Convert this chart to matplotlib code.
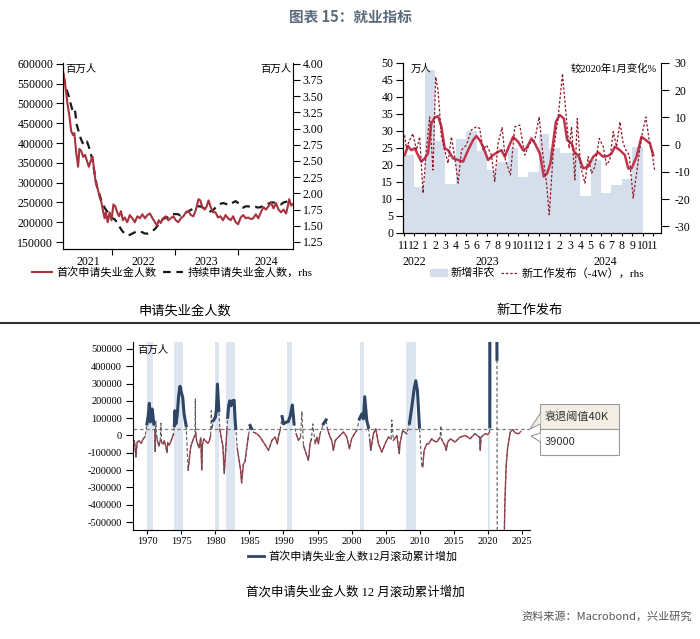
import numpy as np
import matplotlib.pyplot as plt
from matplotlib.lines import Line2D
from matplotlib.patches import Patch, Rectangle, Polygon
from matplotlib.ticker import FormatStrFormatter
import matplotlib.transforms as mtransforms

plt.rcParams['font.family'] = ['Liberation Serif', 'Noto Sans CJK SC', 'DejaVu Sans']
plt.rcParams['axes.unicode_minus'] = False

W, H = 700, 639

# ---------- top left: initial / continuing claims ----------
ic_t = [2021.23, 2021.26, 2021.29, 2021.32, 2021.35, 2021.38, 2021.40, 2021.43, 2021.46, 2021.48,
        2021.51, 2021.54, 2021.57, 2021.60, 2021.63, 2021.66, 2021.69, 2021.71, 2021.74, 2021.77,
        2021.80, 2021.83, 2021.86, 2021.88, 2021.90, 2021.93, 2021.96, 2021.99, 2022.02, 2022.05,
        2022.08, 2022.11, 2022.14, 2022.17, 2022.20, 2022.24, 2022.28, 2022.32, 2022.36, 2022.40,
        2022.44, 2022.48, 2022.52, 2022.56, 2022.60, 2022.64, 2022.68, 2022.71, 2022.74, 2022.77,
        2022.81, 2022.85, 2022.89, 2022.93, 2022.97, 2023.01, 2023.05, 2023.09, 2023.13, 2023.17,
        2023.21, 2023.25, 2023.29, 2023.33, 2023.37, 2023.40, 2023.43, 2023.47, 2023.50, 2023.53,
        2023.56, 2023.60, 2023.64, 2023.68, 2023.72, 2023.76, 2023.80, 2023.84, 2023.88, 2023.92,
        2023.96, 2024.00, 2024.04, 2024.08, 2024.12, 2024.16, 2024.20, 2024.24, 2024.28, 2024.32,
        2024.36, 2024.40, 2024.44, 2024.48, 2024.52, 2024.56, 2024.60, 2024.64, 2024.68, 2024.72,
        2024.76, 2024.79, 2024.81, 2024.84, 2024.86]
ic_v = [575000, 540000, 500000, 470000, 430000, 420000, 425000, 375000, 340000, 385000,
        380000, 365000, 370000, 355000, 340000, 355000, 365000, 335000, 300000, 285000,
        265000, 250000, 225000, 210000, 225000, 200000, 225000, 205000, 245000, 240000,
        225000, 215000, 228000, 205000, 212000, 200000, 218000, 210000, 200000, 215000,
        210000, 220000, 210000, 218000, 222000, 210000, 200000, 192000, 205000, 198000,
        210000, 215000, 205000, 210000, 215000, 205000, 200000, 210000, 215000, 225000,
        228000, 218000, 215000, 232000, 258000, 255000, 238000, 232000, 240000, 255000,
        240000, 225000, 225000, 212000, 215000, 205000, 218000, 210000, 205000, 215000,
        200000, 195000, 212000, 218000, 210000, 212000, 208000, 210000, 220000, 210000,
        225000, 238000, 232000, 240000, 250000, 235000, 248000, 232000, 225000, 232000,
        222000, 242000, 258000, 242000, 245000]

cc_t = [2021.23, 2021.27, 2021.31, 2021.35, 2021.38, 2021.41, 2021.44, 2021.47, 2021.50, 2021.53,
        2021.57, 2021.60, 2021.63, 2021.66, 2021.70, 2021.73, 2021.76, 2021.80, 2021.84, 2021.88,
        2021.92, 2021.96, 2022.00, 2022.04, 2022.08, 2022.12, 2022.16, 2022.20, 2022.24, 2022.28,
        2022.32, 2022.36, 2022.40, 2022.44, 2022.48, 2022.52, 2022.56, 2022.60, 2022.64, 2022.68,
        2022.72, 2022.76, 2022.80, 2022.84, 2022.88, 2022.92, 2022.96, 2023.00, 2023.04, 2023.08,
        2023.12, 2023.16, 2023.20, 2023.24, 2023.28, 2023.32, 2023.36, 2023.40, 2023.44, 2023.48,
        2023.52, 2023.56, 2023.60, 2023.64, 2023.68, 2023.72, 2023.76, 2023.80, 2023.84, 2023.88,
        2023.92, 2023.96, 2024.00, 2024.04, 2024.08, 2024.12, 2024.16, 2024.20, 2024.24, 2024.28,
        2024.32, 2024.36, 2024.40, 2024.44, 2024.48, 2024.52, 2024.56, 2024.60, 2024.64, 2024.68,
        2024.72, 2024.76, 2024.80, 2024.84]
cc_v = [3.80, 3.62, 3.50, 3.35, 3.25, 3.28, 3.05, 2.95, 2.85, 2.78,
        2.75, 2.80, 2.72, 2.62, 2.45, 2.25, 2.10, 1.98, 1.85, 1.78,
        1.72, 1.68, 1.62, 1.60, 1.55, 1.48, 1.42, 1.38, 1.35, 1.36,
        1.38, 1.40, 1.42, 1.41, 1.40, 1.38, 1.38, 1.40, 1.42, 1.45,
        1.50, 1.55, 1.60, 1.62, 1.63, 1.65, 1.68, 1.68, 1.68, 1.66,
        1.68, 1.70, 1.72, 1.74, 1.76, 1.78, 1.80, 1.80, 1.78, 1.76,
        1.74, 1.72, 1.74, 1.78, 1.82, 1.84, 1.85, 1.84, 1.82, 1.83,
        1.86, 1.88, 1.85, 1.80, 1.78, 1.80, 1.80, 1.79, 1.78, 1.79,
        1.78, 1.79, 1.81, 1.82, 1.84, 1.86, 1.86, 1.85, 1.84, 1.83,
        1.86, 1.87, 1.88, 1.90]

# ---------- top right: payrolls / job postings ----------
month_labels = ['11', '12', '1', '2', '3', '4', '5', '6', '7', '8', '9', '10', '11', '12',
                '1', '2', '3', '4', '5', '6', '7', '8', '9', '10', '11']
nfp = [23, 13.5, 48, 27, 14.5, 27.5, 30, 24, 18.5, 21, 25, 16.5, 18, 29,
       25, 23.5, 23.5, 10.8, 21.6, 11.8, 14.2, 15.8, 25.4]

trend_t = [0.07, 0.39, 0.71, 1.04, 1.36, 1.68, 2.0, 2.32, 2.64, 2.96, 3.29, 3.61, 3.93, 4.25,
           4.73, 5.22, 5.70, 6.18, 6.66, 6.98, 7.30, 7.63, 8.11, 8.59, 9.07, 9.40, 9.72, 10.04,
           10.52, 11.0, 11.48, 11.81, 12.29, 12.61, 13.10, 13.48, 13.80, 14.12, 14.64, 15.02,
           15.41, 15.73, 16.15, 16.47, 16.79, 17.27, 17.75, 18.24, 18.72, 19.20, 19.68, 20.01,
           20.33, 20.81, 21.29, 21.61, 21.93, 22.41, 22.89, 23.31, 23.70, 24.02]
trend_v = [-3.8, -0.5, -2, -1.3, -3.8, -6.2, -5, -3.2, 7.8, 10, 10.5, 6.6, -1.3, -2,
           -5, -5.6, -6.2, -2, 1.7, 3.2, 1.7, -0.7, -5.6, -3.8, -2.6, -2, -4.4, -1.3,
           2.9, 1.1, -2, -1.3, 2.3, 0.5, -3.2, -11.7, -10.5, -6.8, 8.4, 10.9,
           9.6, 1.7, 0.5, -3.2, -3.8, -8.7, -8, -4.4, -2.8, -4.4, -4.1, -3.2,
           -0.7, -2, -3.8, -8.7, -8.7, -4.4, 2.9, 1.7, 0.5, -3.8]

jobs_t = [0.07, 0.23, 0.55, 0.87, 1.20, 1.52, 1.84, 2.16, 2.48, 2.80, 3.06, 3.29, 3.61, 3.93,
          4.25, 4.57, 4.89, 5.22, 5.54, 6.02, 6.50, 6.98, 7.30, 7.63, 7.95, 8.43, 8.75, 9.07,
          9.46, 9.78, 10.26, 10.68, 11.16, 11.64, 12.12, 12.61, 13.03, 13.41, 13.74, 14.0,
          14.38, 14.86, 15.28, 15.50, 15.92, 16.15, 16.47, 16.70, 17.02, 17.44, 17.75, 18.08,
          18.40, 18.82, 19.20, 19.52, 19.84, 20.17, 20.49, 20.81, 21.13, 21.39, 21.71, 22.09,
          22.48, 22.89, 23.31, 23.63, 23.86, 24.18]
jobs_v = [3.5, -1.3, 1.7, 4.1, -2, 2.9, -17.8, -2, 10.2, -9.3, 24.9, 20, 2.9, -2,
          -6.8, 2.9, -4.4, -14.1, -2, -0.1, 5.4, 6.6, 6, -2, -0.1, -3.8, -13.5, 0.5,
          6.3, -5.6, -11.1, 6.6, 7.2, -3.8, 0.5, 1.7, 10.2, -4.4, -14.1, -25.7,
          -3.2, 10.2, 26.1, 16.3, -1.3, 6.6, -12.9, 9.6, -8, -14.1, -4.4, -10.5,
          -8, 2.3, -0.7, -7.4, -5.6, 4.8, -0.7, 8.4, 0.5, -2, -3.8, -19.6,
          -8.7, 2.9, 10.2, 1.7, -2, -9.9]

# ---------- bottom: 12m rolling change of initial claims ----------
roll_t = [1967.95, 1968.10, 1968.34, 1968.50, 1968.80, 1969.10, 1969.40, 1969.70, 1969.95, 1970.15,
          1970.30, 1970.45, 1970.70, 1970.80, 1970.95, 1971.10, 1971.15, 1971.25, 1971.35, 1971.50,
          1971.70, 1971.90, 1972.00, 1972.10, 1972.30, 1972.50, 1972.70, 1972.90, 1973.00, 1973.20,
          1973.40, 1973.60, 1973.85, 1973.97, 1974.05, 1974.20, 1974.40, 1974.60, 1974.80, 1975.00,
          1975.20, 1975.40, 1975.70, 1976.00, 1976.20, 1976.40, 1976.60, 1976.85, 1977.00, 1977.05,
          1977.10, 1977.25, 1977.60, 1977.85, 1978.00, 1978.10, 1978.30, 1978.60, 1978.90, 1979.10,
          1979.30, 1979.40, 1979.50, 1979.70, 1980.00, 1980.15, 1980.30, 1980.50, 1980.65, 1980.90,
          1981.10, 1981.30, 1981.55, 1981.70, 1981.80, 1981.95, 1982.10, 1982.30, 1982.50, 1982.75,
          1982.90, 1983.00, 1983.20, 1983.50, 1983.70, 1983.85, 1984.10, 1984.35, 1984.60, 1984.85,
          1985.10, 1985.30, 1985.60, 1986.10, 1986.56, 1987.05, 1987.40, 1987.80, 1988.30, 1988.76,
          1989.10, 1989.30, 1989.50, 1989.80, 1990.00, 1990.40, 1990.70, 1991.00, 1991.30, 1991.55,
          1991.85, 1992.20, 1992.50, 1992.70, 1992.93, 1993.32, 1993.66, 1993.90, 1994.10, 1994.30,
          1994.64, 1994.90, 1995.13, 1995.37, 1995.86, 1996.25, 1996.45, 1996.84, 1997.10, 1997.33,
          1997.60, 1997.82, 1998.30, 1998.80, 1999.30, 1999.68, 2000.00, 2000.27, 2000.76, 2001.15,
          2001.50, 2001.74, 2001.93, 2002.23, 2002.47, 2002.65, 2002.82, 2003.20, 2003.55, 2003.94,
          2004.43, 2004.70, 2004.92, 2005.40, 2005.80, 2005.90, 2006.15, 2006.64, 2007.00, 2007.10,
          2007.50, 2008.10, 2008.50, 2008.84, 2009.18, 2009.43, 2009.67, 2009.97, 2010.31, 2010.45,
          2010.65, 2011.05, 2011.30, 2011.78, 2012.00, 2012.50, 2013.00, 2013.10, 2013.20, 2013.70,
          2013.90, 2014.10, 2014.50, 2015.20, 2015.90, 2016.70, 2017.40, 2018.10, 2018.80, 2018.90,
          2019.00, 2019.60, 2020.00, 2020.25, 2020.30, 2020.33, 2021.00, 2021.35, 2021.50, 2022.30,
          2022.50, 2022.70, 2022.90, 2023.30, 2023.67, 2024.00, 2024.50, 2024.85]
roll_v = [-48000, -30000, -124000, -40000, -30000, -45000, -20000, -5000, 67000, 120000,
          186000, 78000, 153000, 125000, 67000, 30000, -92000, 83000, 0, -35000,
          -60000, -30000, 70000, -40000, -50000, -30000, -60000, -100000, -40000, -55000,
          -40000, -20000, 10000, 57000, 143000, 67000, 120000, 230000, 284000, 249000,
          220000, 124000, 57000, -201000, -124000, -60000, -38000, -10000, 0, 211000,
          20000, -33000, -72000, -13000, -201000, -52000, -20000, -33000, -45000, -33000,
          0, 143000, 38000, 86000, 105000, 150000, 297000, 143000, 38000, -23000,
          -60000, -220000, -52000, 38000, 105000, 172000, 200000, 172000, 200000, 203000,
          86000, 40000, -72000, -149000, -200000, -274000, -168000, -149000, -72000, 0,
          58000, 40000, 19000, 10000, -9000, -38000, -60000, -86000, -28000, -9000,
          -48000, 0, 29000, 109000, 67000, 77000, 80000, 115000, 176000, 67000,
          10000, -28000, -10000, 140000, -57000, -105000, -143000, -48000, -20000, 67000,
          -48000, -10000, -48000, 10000, 67000, 90000, 38000, -9000, -30000, -86000,
          -30000, -19000, 0, 20000, -9000, -77000, -20000, 0, 29000, 96000,
          124000, 96000, 224000, 86000, 48000, -20000, -86000, 10000, 38000, -48000,
          -96000, -70000, -48000, -9000, -20000, 90000, -28000, 0, -105000, -48000,
          29000, 10000, 71000, 163000, 268000, 316000, 259000, 48000, -172000, -182000,
          -86000, -48000, -48000, -19000, -29000, -38000, -10000, 57000, -20000, -57000,
          -86000, -40000, -19000, -38000, -10000, 0, -19000, 10000, -10000, -86000,
          -10000, 10000, 5000, 19000, 50000, 4500000, 4000000, 440000, -4000000, -900000,
          -400000, -172000, -77000, 19000, 34000, 15000, 10000, 23000]
threshold = 40000
recessions = [(1969.92, 1970.87), (1973.87, 1975.2), (1980.0, 1980.55), (1981.55, 1982.87),
              (1990.55, 1991.2), (2001.2, 2001.87), (2007.92, 2009.45), (2020.1, 2020.3)]

RED = '#a8323e'
NAVY = '#2f4566'


def box(x0, y0, x1, y1):
    return [x0 / W, 1 - y1 / H, (x1 - x0) / W, (y1 - y0) / H]


def fxy(x, y):
    return (x / W, 1 - y / H)


fig = plt.figure(figsize=(7, 6.39), dpi=100)

fig.text(*fxy(350, 17), '图表 15：就业指标', ha='center', va='center', fontsize=10.5,
         fontweight='bold', color='#5b6b7b', family=['Noto Sans CJK SC'])

# ---- chart 1 ----
ax1 = fig.add_axes(box(63, 63, 293, 249))
ax1r = ax1.twinx()
ax1.set_zorder(ax1r.get_zorder() + 1)
ax1.patch.set_visible(False)
ax1.plot(ic_t, ic_v, color=RED, lw=1.5)
ax1r.plot(cc_t, cc_v, color='#1a1a1a', lw=1.6, dashes=(3.5, 2.5))
ax1.set_xlim(2021.22, 2024.87)
ax1.set_ylim(132400, 602000)
ax1r.set_ylim(1.142, 4.01)
ax1.set_yticks(np.arange(150000, 600001, 50000))
ax1r.set_yticks(np.arange(1.25, 4.01, 0.25))
ax1r.yaxis.set_major_formatter(FormatStrFormatter('%.2f'))
ax1.set_xticks([2022, 2023, 2024], [''] * 3)
ax1.set_xticks([2021.62, 2022.5, 2023.5, 2024.45], ['2021', '2022', '2023', '2024'], minor=True)
ax1.tick_params(axis='x', which='minor', length=0, labelsize=8.5, pad=5)
ax1.tick_params(axis='x', which='major', length=4)
ax1.tick_params(axis='y', length=5, labelsize=8.5, pad=2)
ax1r.tick_params(axis='y', length=5, labelsize=8.5, pad=2)
for a in (ax1, ax1r):
    a.spines['top'].set_visible(False)
ax1.spines['right'].set_visible(False)
ax1.text(0.01, 0.995, '百万人', transform=ax1.transAxes, ha='left', va='top', fontsize=7.5)
ax1.text(0.995, 0.995, '百万人', transform=ax1.transAxes, ha='right', va='top', fontsize=7.5)
h1 = [Line2D([], [], color=RED, lw=1.5), Line2D([], [], color='#1a1a1a', lw=1.6, dashes=(3.5, 2.5))]
fig.legend(h1, ['首次申请失业金人数', '持续申请失业金人数，rhs'], loc='center',
           bbox_to_anchor=fxy(172, 272), ncol=2, frameon=False, fontsize=8,
           handlelength=1.8, columnspacing=0.6, handletextpad=0.4)

# ---- chart 2 ----
ax2 = fig.add_axes(box(403, 63, 661, 233))
ax2r = ax2.twinx()
ax2.bar(np.arange(len(nfp)), nfp, width=1.0, align='edge', color='#d5dfeb', lw=0)
ax2r.plot(trend_t, trend_v, color='#c2344d', lw=1.8)
ax2r.plot(jobs_t, jobs_v, color='#8c1c2c', lw=0.9, dashes=(2, 1.5))
ax2.set_xlim(-0.09, 24.77)
ax2.set_ylim(0, 50)
ax2r.set_ylim(-32.4, 30)
ax2.set_yticks(np.arange(0, 51, 5))
ax2r.set_yticks(np.arange(-30, 31, 10))
ax2.set_xticks(np.arange(len(month_labels)), month_labels)
ax2.set_xticks([2, 14], minor=True)
ax2.tick_params(axis='x', which='major', length=2, labelsize=8.5, pad=3)
ax2.tick_params(axis='x', which='minor', length=5)
ax2.tick_params(axis='y', length=5, labelsize=8.5, pad=2)
ax2r.tick_params(axis='y', length=6, labelsize=8.5, pad=4)
for a in (ax2, ax2r):
    a.spines['top'].set_visible(False)
ax2.spines['right'].set_visible(False)
trans2 = mtransforms.blended_transform_factory(ax2.transData, ax2.transAxes)
for xpos, yr in [(1.0, '2022'), (8.0, '2023'), (19.4, '2024')]:
    ax2.text(xpos, -0.17, yr, transform=trans2, ha='center', va='center', fontsize=8.5)
ax2.text(0.03, 0.995, '万人', transform=ax2.transAxes, ha='left', va='top', fontsize=7.5)
ax2.text(0.985, 0.995, '较2020年1月变化%', transform=ax2.transAxes, ha='right', va='top', fontsize=7.5)
h2 = [Patch(color='#d5dfeb'), Line2D([], [], color='#8c1c2c', lw=0.9, dashes=(2, 1.5))]
fig.legend(h2, ['新增非农', '新工作发布（-4W），rhs'], loc='center',
           bbox_to_anchor=fxy(537, 273), ncol=2, frameon=False, fontsize=8,
           handlelength=1.6, columnspacing=0.5, handletextpad=0.3)

fig.text(*fxy(185, 311), '申请失业金人数', ha='center', va='center', fontsize=9.5)
fig.text(*fxy(530, 311), '新工作发布', ha='center', va='center', fontsize=9.5)
fig.add_artist(Line2D([0, 1], [1 - 323 / H] * 2, color='#333333', lw=1.5))

# ---- chart 3 ----
ax3 = fig.add_axes(box(133, 342, 530, 530))
for r0, r1 in recessions:
    ax3.axvspan(r0, r1, color='#dce5f0', lw=0, zorder=0)
ax3.axhline(threshold, color='#808080', lw=0.9, dashes=(3, 2), zorder=1)
rv = np.array(roll_v, dtype=float)
below = np.where(rv < threshold, rv, np.nan)
above = np.where(rv >= threshold, rv, np.nan)
ax3.plot(roll_t, below, color='#c0394f', lw=1.0, zorder=2)
ax3.plot(roll_t, rv, color='#555555', lw=0.8, dashes=(3, 2), zorder=3)
ax3.plot(roll_t, above, color=NAVY, lw=2.2, zorder=4)
ax3.set_xlim(1967.9, 2026.2)
ax3.set_ylim(-546000, 540000)
ax3.set_yticks(np.arange(-500000, 500001, 100000))
ax3.set_xticks(np.arange(1970, 2026, 5))
ax3.tick_params(axis='y', length=5, labelsize=7.5, pad=3)
ax3.tick_params(axis='x', length=3, labelsize=7.5, pad=2)
ax3.spines['top'].set_visible(False)
ax3.spines['right'].set_visible(False)
ax3.text(0.01, 0.985, '百万人', transform=ax3.transAxes, ha='left', va='top', fontsize=7.5)
h3 = [Line2D([], [], color=NAVY, lw=2.0)]
fig.legend(h3, ['首次申请失业金人数12月滚动累计增加'], loc='center',
           bbox_to_anchor=fxy(353, 556), frameon=False, fontsize=8,
           handlelength=1.4, handletextpad=0.4)

# callouts
fig.add_artist(Rectangle(fxy(540, 429), 79 / W, 25 / H, transform=fig.transFigure,
                         fc='#f4efe4', ec='#999999', lw=0.8))
fig.add_artist(Rectangle(fxy(540, 455), 79 / W, 26 / H, transform=fig.transFigure,
                         fc='white', ec='#999999', lw=0.8))
fig.add_artist(Polygon([fxy(540.5, 413), fxy(530, 429), fxy(540.5, 424)], closed=False,
                       transform=fig.transFigure, fc='#f4efe4', ec='#999999', lw=0.8))
fig.add_artist(Polygon([fxy(540.5, 433), fxy(531, 436), fxy(540.5, 442)], closed=False,
                       transform=fig.transFigure, fc='white', ec='#999999', lw=0.8))
fig.text(*fxy(545, 416.5), '衰退阈值40K', ha='left', va='center', fontsize=8,
         color='#333333', family=['Noto Sans CJK SC'])
fig.text(*fxy(545, 442), '39000', ha='left', va='center', fontsize=8,
         color='#333333', family=['Noto Sans CJK SC'])

fig.text(*fxy(355, 592), '首次申请失业金人数 12 月滚动累计增加', ha='center', va='center', fontsize=9)
fig.text(*fxy(692, 616), '资料来源：Macrobond，兴业研究', ha='right', va='center', fontsize=8,
         color='#555555', family=['Noto Sans CJK SC'])

fig.savefig('out.png', dpi=100)
